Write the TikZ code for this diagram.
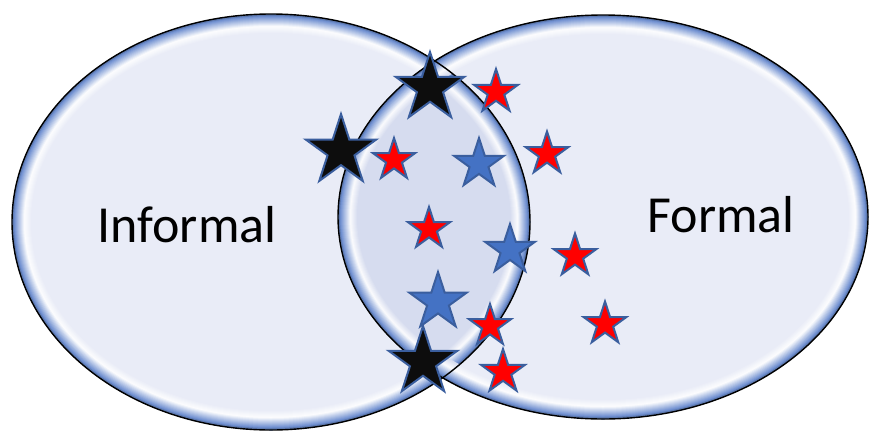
\documentclass[tikz,border=0pt]{standalone}
\usepackage{fontspec}
\setmainfont{Carlito}
\usetikzlibrary{shapes.geometric}
\definecolor{fillc}{HTML}{E9ECF7}
\definecolor{lensc}{HTML}{D6DCEF}
\definecolor{rimc}{HTML}{6F8FD0}
\definecolor{starline}{HTML}{3A5E9E}
\definecolor{starblue}{HTML}{4472C4}
\definecolor{starred}{HTML}{FF0000}
\definecolor{starblack}{HTML}{0D0D0D}
\newcommand\ellL{(271,222) ellipse [x radius=259, y radius=208]}
\newcommand\ellR{(603,217) ellipse [x radius=265, y radius=202]}
\newcommand\rimdraw[2]{%
  \foreach \d in {20,19,...,1}{%
    \ifnum\d>12
      \pgfmathtruncatemacro\t{(20-\d)*100/8}%
      \colorlet{cur}{white!\t!#2}%
    \else\ifnum\d>2
      \pgfmathtruncatemacro\t{(13-\d)*100/10}%
      \colorlet{cur}{rimc!\t!white}%
    \else
      \colorlet{cur}{rimc!85!black}%
    \fi\fi
    \draw[cur, line width=2*\d] #1;
  }%
}
\begin{document}
\begin{tikzpicture}[x=1pt,y=-1pt,
  starbase/.style={star, star points=5, star point ratio=2.618, draw=starline,
    line width=2pt, inner sep=0pt, minimum size=#1},
  blackstar/.style={starbase=#1, fill=starblack},
  redstar/.style={starbase=#1, fill=starred},
  bluestar/.style={starbase=#1, fill=starblue},
  label/.style={font=\fontsize{52}{60}\selectfont, inner sep=0pt, anchor=base}
]
\useasboundingbox (0,0) rectangle (872,434);
% left ellipse
\begin{scope}
  \clip \ellL;
  \fill[fillc] \ellL;
  \rimdraw{\ellL}{fillc}
\end{scope}
% right ellipse
\begin{scope}
  \clip \ellR;
  \fill[fillc] \ellR;
  \rimdraw{\ellR}{fillc}
\end{scope}
% lens
\begin{scope}
  \clip \ellL;
  \clip \ellR;
  \fill[lensc] \ellR;
  \rimdraw{\ellL}{lensc}
  \rimdraw{\ellR}{lensc}
\end{scope}
\draw[black, line width=1.4] \ellL;
\draw[black, line width=1.4] \ellR;
% labels
\node[label] (informal) at (187,242) {Informal};
\node[label] (formal) at (721,232) {Formal};
% stars
\node[blackstar=72] (k1) at (430,88) {};
\node[blackstar=74] (k2) at (341,151) {};
\node[blackstar=72] (k3) at (423,362) {};
\node[redstar=46] (r1) at (496,92) {};
\node[redstar=44] (r2) at (394,160) {};
\node[redstar=45] (r3) at (547,154) {};
\node[redstar=44] (r4) at (429,229) {};
\node[redstar=45] (r5) at (575,256) {};
\node[redstar=44] (r6) at (490,326) {};
\node[redstar=46] (r7) at (503,372) {};
\node[redstar=45] (r8) at (605,324) {};
\node[bluestar=52] (b1) at (479,164) {};
\node[bluestar=52] (b2) at (510,250) {};
\node[bluestar=60] (b3) at (438,302) {};
\end{tikzpicture}
\end{document}
